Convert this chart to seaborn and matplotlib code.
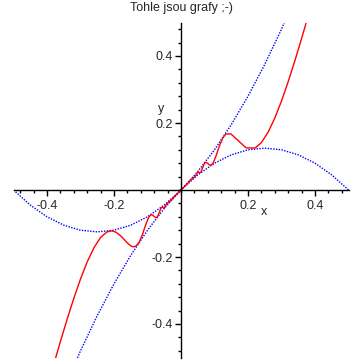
import numpy as np
import matplotlib
matplotlib.use("Agg")
import matplotlib.pyplot as plt
from matplotlib.ticker import FixedLocator, MultipleLocator
import seaborn as sns

# ── data ─────────────────────────────────────────────────────
title = "Tohle jsou grafy ;-)"

# envelope curves (blue, dotted)
env_x = [-0.5, -0.45, -0.4, -0.35, -0.3, -0.25, -0.2, -0.15, -0.1, -0.05, 0.0,
         0.05, 0.1, 0.15, 0.2, 0.25, 0.3, 0.35, 0.4, 0.45, 0.5]
env_upper = [0.0, -0.045, -0.08, -0.105, -0.12, -0.125, -0.12, -0.105, -0.08, -0.045, 0.0,
             0.055, 0.12, 0.195, 0.28, 0.375, 0.48, 0.595, 0.72, 0.855, 1.0]
env_lower = [-1.0, -0.855, -0.72, -0.595, -0.48, -0.375, -0.28, -0.195, -0.12, -0.055, 0.0,
             0.045, 0.08, 0.105, 0.12, 0.125, 0.12, 0.105, 0.08, 0.045, 0.0]

# oscillating curve (red)
red_x = [-0.38, -0.36, -0.34, -0.32, -0.30, -0.28, -0.26, -0.24, -0.221, -0.207, -0.194,
         -0.18, -0.17, -0.16, -0.149, -0.142, -0.134, -0.125, -0.115, -0.105, -0.096,
         -0.09, -0.085, -0.08, -0.075, -0.07, -0.065, -0.06, -0.055, -0.05, -0.045,
         -0.04, -0.035, -0.03, -0.02, -0.01, 0.0,
         0.01, 0.02, 0.03, 0.035, 0.04, 0.045, 0.05, 0.055, 0.06, 0.065, 0.07, 0.075,
         0.08, 0.085, 0.09, 0.096, 0.105, 0.115, 0.125, 0.134, 0.149, 0.194, 0.221,
         0.24, 0.26, 0.28, 0.30, 0.32, 0.34, 0.36, 0.38]
red_y = [-0.521, -0.4523, -0.3861, -0.3234, -0.2656, -0.2146, -0.1725, -0.1415, -0.1251,
         -0.1219, -0.126, -0.1369, -0.1474, -0.1583, -0.1674, -0.1697, -0.1672, -0.1559,
         -0.1326, -0.1028, -0.0806, -0.0739, -0.0746, -0.0792, -0.0828, -0.0797, -0.0677,
         -0.0541, -0.0513, -0.0546, -0.0441, -0.0396, -0.0343, -0.0317, -0.0198, -0.0099, 0.0,
         0.0099, 0.0198, 0.0317, 0.0343, 0.0396, 0.0441, 0.0546, 0.0513, 0.0541, 0.0677,
         0.0797, 0.0828, 0.0792, 0.0746, 0.0739, 0.0806, 0.1028, 0.1326, 0.1559, 0.1672,
         0.1674, 0.126, 0.1251, 0.1415, 0.1725, 0.2146, 0.2656, 0.3234, 0.3861, 0.4523, 0.521]

x_major = [-0.4, -0.2, 0.2, 0.4]
y_major = [-0.4, -0.2, 0.2, 0.4]

# ── style ────────────────────────────────────────────────────
sns.set_style("white")
plt.rcParams["font.family"] = ["Liberation Sans", "DejaVu Sans"]
FS = 9

fig = plt.figure(figsize=(3.62, 3.62), dpi=100)
ax = fig.add_axes([13.5 / 362, 4.5 / 362, 335 / 362, 335 / 362])
ax.set_facecolor("white")

DOT = (0, (1, 1))
sns.lineplot(x=env_x, y=env_upper, ax=ax, color="#0000ff", linewidth=1.0,
             linestyle=DOT, sort=False, estimator=None)
sns.lineplot(x=env_x, y=env_lower, ax=ax, color="#0000ff", linewidth=1.0,
             linestyle=DOT, sort=False, estimator=None)
sns.lineplot(x=red_x, y=red_y, ax=ax, color="#ff0000", linewidth=1.0,
             sort=False, estimator=None)

ax.set_xlim(-0.5, 0.5)
ax.set_ylim(-0.5, 0.5)

# axes through the origin
for side in ["top", "right"]:
    ax.spines[side].set_visible(False)
for side in ["left", "bottom"]:
    ax.spines[side].set_position("zero")
    ax.spines[side].set_color("black")
    ax.spines[side].set_linewidth(1.0)

ax.xaxis.set_major_locator(FixedLocator(x_major))
ax.yaxis.set_major_locator(FixedLocator(y_major))
ax.xaxis.set_minor_locator(MultipleLocator(0.04))
ax.yaxis.set_minor_locator(MultipleLocator(0.04))
ax.set_xticklabels([f"{v:g}" for v in x_major])
ax.set_yticklabels([f"{v:g}" for v in y_major])
ax.tick_params(which="major", direction="out", length=4.5, width=1, color="black",
               labelsize=FS, bottom=True, left=True)
ax.tick_params(axis="y", which="major", pad=1)
ax.tick_params(axis="x", which="major", pad=2.5)
ax.tick_params(which="minor", direction="out", length=2.5, width=1, color="black",
               bottom=True, left=True)

ax.text(0.248, -0.067, "x", ha="center", va="center", fontsize=FS)
ax.text(-0.058, 0.242, "y", ha="center", va="center", fontsize=FS)
fig.text(0.5, 1 - 10.5 / 362, title, ha="center", va="baseline", fontsize=FS)

ax.grid(False)
fig.savefig("out.png", dpi=100)
